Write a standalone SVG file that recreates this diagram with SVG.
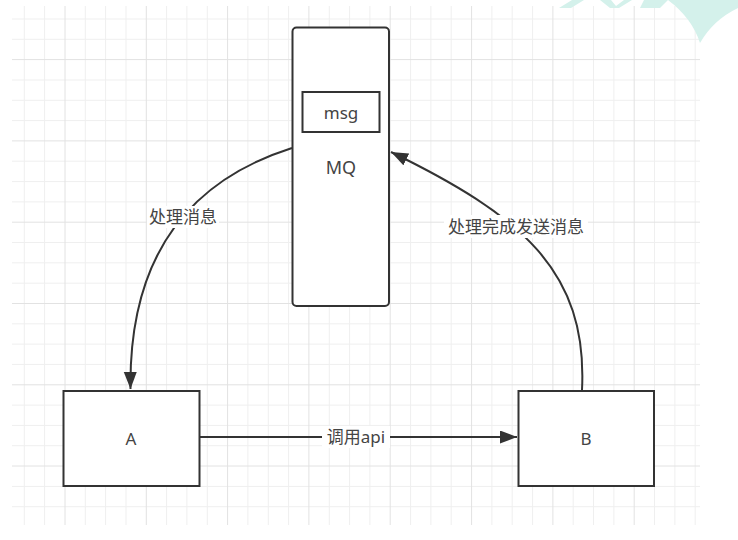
<svg xmlns="http://www.w3.org/2000/svg" width="738" height="540" viewBox="0 0 738 540">
  <style>
    .grid { stroke: #efefef; stroke-width: 1; fill: none; }
    .grid-major { stroke: #e2e2e2; stroke-width: 1; fill: none; }
    .box { fill: #ffffff; stroke: #333333; stroke-width: 2; }
    .edge { fill: none; stroke: #333333; stroke-width: 2; }
    .txt { font-family: "Noto Sans", "Noto Sans CJK SC", sans-serif; font-size: 17px; fill: #444444; text-anchor: middle; dominant-baseline: central; }
    .big { font-size: 18px; }
    .lblbg { fill: #ffffff; }
    .wm { fill: #d4f1eb; }
  </style>
  <defs>
    <marker id="arrow" markerUnits="userSpaceOnUse" markerWidth="18" markerHeight="14" refX="17" refY="6.5" orient="auto" viewBox="0 0 18 14">
      <path d="M0,0 L17,6.5 L0,13 Z" fill="#333333"/>
    </marker>
  </defs>

  <rect width="738" height="540" fill="#ffffff"/>

  <g id="grid">
    <path class="grid" d="M24.3,6V525 M44.6,6V525 M85.3,6V525 M105.6,6V525 M126,6V525 M166.6,6V525 M186.9,6V525 M207.3,6V525 M247.9,6V525 M268.3,6V525 M288.6,6V525 M329.3,6V525 M349.6,6V525 M369.9,6V525 M410.6,6V525 M430.9,6V525 M451.2,6V525 M491.9,6V525 M512.2,6V525 M532.6,6V525 M573.2,6V525 M593.5,6V525 M613.9,6V525 M654.5,6V525 M674.9,6V525 M695.2,6V525 M12,19H700 M12,39.3H700 M12,80H700 M12,100.3H700 M12,120.6H700 M12,161.2H700 M12,181.6H700 M12,201.9H700 M12,242.5H700 M12,262.8H700 M12,283.2H700 M12,323.8H700 M12,344.1H700 M12,364.4H700 M12,405.1H700 M12,425.4H700 M12,445.7H700 M12,486.4H700 M12,506.7H700"/>
    <path class="grid-major" d="M65,6V525 M146.3,6V525 M227.6,6V525 M308.9,6V525 M390.2,6V525 M471.6,6V525 M552.9,6V525 M634.2,6V525 M12,59.6H700 M12,140.9H700 M12,222.2H700 M12,303.5H700 M12,384.8H700 M12,466H700"/>
  </g>

  <g id="watermark">
    <path class="wm" d="M572,0 L584,0 L571,8 L559,8 Z"/>
    <path class="wm" d="M600,0 L611,0 L616,6 L624,0 L632,0 L619,8 L610,8 Z"/>
    <path class="wm" d="M644,0 L668,0 L660,8 L640,8 Z"/>
    <path class="wm" d="M668,0 L738,0 L738,8 Q713,20 700,43 Q692,18 668,0 Z"/>
  </g>

  <g id="connectors">
    <path class="edge" d="M292,148 Q128,200 130.5,389" marker-end="url(#arrow)"/>
    <path class="edge" d="M582,390 C588,270 520,215 391,152" marker-end="url(#arrow)"/>
    <path class="edge" d="M200,437 L517,437" marker-end="url(#arrow)"/>
    <g id="label-process">
      <rect class="lblbg" x="147" y="206" width="72" height="22"/>
      <text class="txt" x="183" y="216">处理消息</text>
    </g>
    <g id="label-done">
      <rect class="lblbg" x="444" y="215" width="144" height="23"/>
      <text class="txt" x="516" y="226">处理完成发送消息</text>
    </g>
    <g id="label-api">
      <rect class="lblbg" x="322" y="426" width="68" height="22"/>
      <text class="txt" x="356" y="436">调用api</text>
    </g>
  </g>

  <g id="node-mq">
    <rect class="box" x="292.5" y="27.5" width="96.5" height="278.5" rx="4" ry="4"/>
    <text class="txt big" x="341" y="167">MQ</text>
  </g>

  <g id="node-msg">
    <rect class="box" x="302.5" y="92" width="77" height="40"/>
    <text class="txt" x="341" y="112">msg</text>
  </g>

  <g id="node-a">
    <rect class="box" x="63.5" y="391" width="136" height="95"/>
    <text class="txt" x="131" y="438">A</text>
  </g>

  <g id="node-b">
    <rect class="box" x="518.5" y="391" width="135.5" height="95"/>
    <text class="txt" x="586" y="438">B</text>
  </g>
</svg>
